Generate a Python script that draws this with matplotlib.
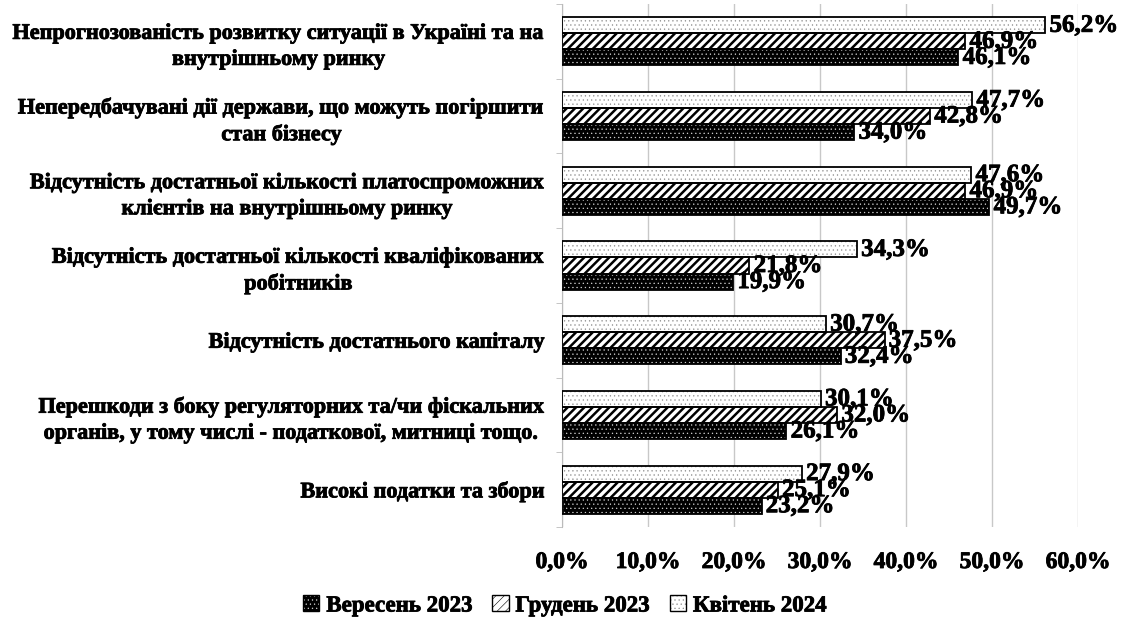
import numpy as np
import matplotlib.pyplot as plt
import matplotlib.patheffects as pe
from matplotlib.patches import Patch

plt.rcParams['font.family'] = 'Liberation Serif'
plt.rcParams['font.weight'] = 'bold'

categories = [
    "Непрогнозованість розвитку ситуації в Україні та на\nвнутрішньому ринку",
    "Непередбачувані дії держави, що можуть погіршити\nстан бізнесу",
    "Відсутність достатньої кількості платоспроможних\nклієнтів на внутрішньому ринку",
    "Відсутність достатньої кількості кваліфікованих\nробітників",
    "Відсутність достатнього капіталу",
    "Перешкоди з боку регуляторних та/чи фіскальних\nорганів, у тому числі - податкової, митниці тощо.",
    "Високі податки та збори",
]
sep_2023 = [46.1, 34.0, 49.7, 19.9, 32.4, 26.1, 23.2]
dec_2023 = [46.9, 42.8, 46.9, 21.8, 37.5, 32.0, 25.1]
apr_2024 = [56.2, 47.7, 47.6, 34.3, 30.7, 30.1, 27.9]
series_names = ["Вересень 2023", "Грудень 2023", "Квітень 2024"]
xticks = [0, 10, 20, 30, 40, 50, 60]

heavy = [pe.withStroke(linewidth=0.6, foreground='black')]

fig = plt.figure(figsize=(11.25, 6.26), dpi=100)
ax = fig.add_axes([562 / 1125, 1 - 527 / 626, 516 / 1125, 523 / 626])

y = np.arange(len(categories))
h = 0.215

# (values, offset, face, hatch colour, hatch, hatch linewidth)
styles = [
    (sep_2023, h, 'black', '#d0d0d0', '....', 0.4),
    (dec_2023, 0, 'white', 'black', '////', 1.8),
    (apr_2024, -h, 'white', '#8c8c8c', '....', 0.4),
]
handles = []
for vals, off, face, hcol, hatch, hlw in styles:
    plt.rcParams['hatch.linewidth'] = hlw
    ax.barh(y + off, vals, height=h, color=face, edgecolor=hcol, hatch=hatch,
            linewidth=0, zorder=2)
    ax.barh(y + off, vals, height=h, fill=False, edgecolor='black',
            linewidth=1.3, zorder=3)
    for yy, v in zip(y + off, vals):
        ax.annotate(f"{v:.1f}%".replace('.', ','), (v, yy), xytext=(3, 0),
                    textcoords='offset points', ha='left', va='center',
                    fontsize=18, fontweight='bold', zorder=4, path_effects=heavy)
    handles.append((Patch(facecolor=face, edgecolor=hcol, hatch=hatch, linewidth=0),
                    Patch(fill=False, edgecolor='black', linewidth=1)))

ax.set_xlim(0, 60)
ax.set_ylim(len(categories) - 0.5, -0.5)
ax.set_xticks(xticks)
ax.set_xticklabels([f"{t:.1f}%".replace('.', ',') for t in xticks],
                   fontsize=17, fontweight='bold', path_effects=heavy)
ax.tick_params(axis='x', length=0, pad=18)
ax.set_yticks(y)
ax.set_yticklabels(categories, fontsize=16, fontweight='bold', path_effects=heavy)
for lbl in ax.get_yticklabels():
    lbl.set_multialignment('center')
    lbl.set_linespacing(1.4)
ax.tick_params(axis='y', which='major', length=0, pad=12)
ax.set_yticks(np.arange(-0.5, len(categories), 1), minor=True)
ax.tick_params(axis='y', which='minor', length=4, color='#bbbbbb', direction='out')

ax.grid(axis='x', color='#c8c8c8', linewidth=1, zorder=0)
ax.set_axisbelow(True)
for s in ['top', 'right', 'bottom']:
    ax.spines[s].set_visible(False)
ax.spines['left'].set_color('#bbbbbb')

leg = fig.legend(handles, series_names, loc='center', bbox_to_anchor=(0.502, 0.032),
                 ncol=3, frameon=False, handlelength=0.7, handleheight=0.7,
                 handletextpad=0.3, columnspacing=0.9, prop={'weight': 'bold', 'size': 16.5})
for t in leg.get_texts():
    t.set_path_effects(heavy)

fig.savefig('out.png', dpi=100)
